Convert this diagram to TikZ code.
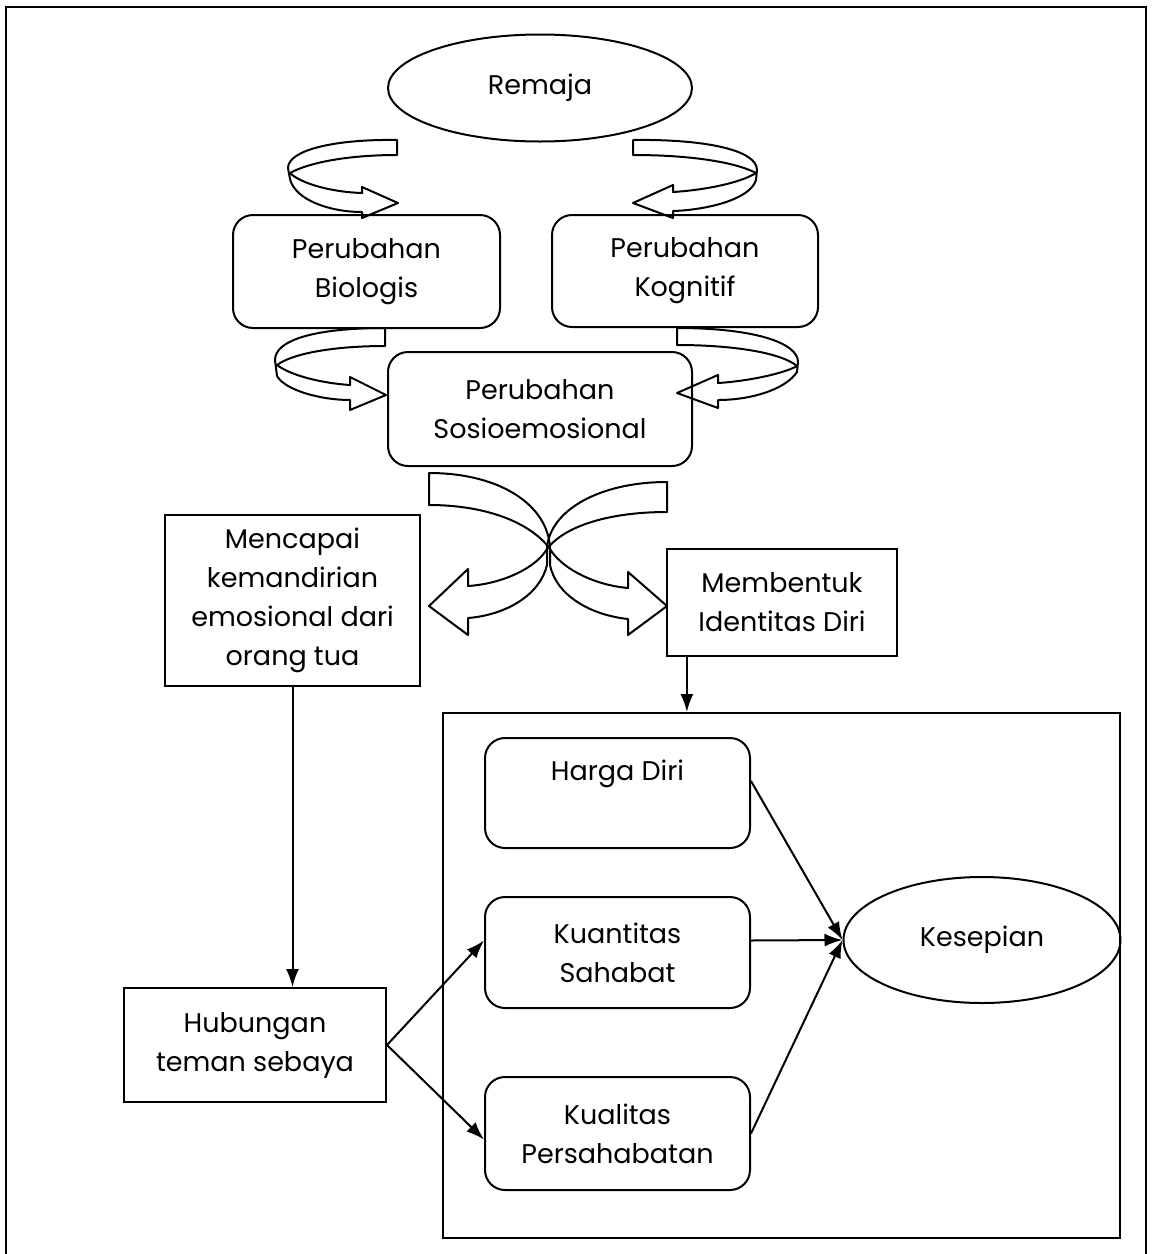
\documentclass[tikz,border=0pt]{standalone}
\usepackage{fontspec}
\setmainfont{Poppins}
\usetikzlibrary{shapes.geometric,arrows.meta,calc}
\begin{document}
\begin{tikzpicture}[x=0.5pt,y=-0.5pt,
  every node/.style={font=\fontsize{13.5}{19.5}\selectfont, align=center, inner sep=0pt},
  rbox/.style={draw, line width=1pt, rounded corners=10pt},
  sbox/.style={draw, line width=1pt},
  ell/.style={draw, line width=1pt, ellipse},
  conn/.style={-{Latex[length=9pt,width=6.5pt]}, line width=1pt},
  swirl/.style={draw, line width=1pt, line join=round}
]
\useasboundingbox (0,0) rectangle (1154,1254);
% outer frame
\draw[line width=1pt] (6,1254) -- (6,7) -- (1146,7) -- (1146,1254);

% nodes
\node[ell, minimum width=152pt, minimum height=53.5pt] (rem) at (540,88) {Remaja};
\node[rbox, minimum width=133.5pt, minimum height=56.5pt] (bio) at (366.5,271.5) {Perubahan\\Biologis};
\node[rbox, minimum width=133pt, minimum height=56pt] (kog) at (685,271) {Perubahan\\Kognitif};
\node[rbox, minimum width=152pt, minimum height=57pt] (sos) at (540,409) {Perubahan\\Sosioemosional};
\node[sbox, minimum width=127.5pt, minimum height=85.5pt] (menc) at (292.5,600.5) {Mencapai\\kemandirian\\emosional dari\\orang tua};
\node[sbox, minimum width=115pt, minimum height=53.5pt] (mem) at (782,602.5) {Membentuk\\Identitas Diri};
\node[sbox, minimum width=338.5pt, minimum height=262.5pt] (grp) at (781.5,975.5) {};
\node[rbox, minimum width=132.5pt, minimum height=55pt,
      label={[anchor=center, yshift=-18.5pt]north:Harga Diri}] (hd) at (617.5,793) {};
\node[rbox, minimum width=132.5pt, minimum height=55.5pt] (kuan) at (617.5,952.5) {Kuantitas\\Sahabat};
\node[rbox, minimum width=132.5pt, minimum height=56.5pt] (kual) at (617.5,1133.5) {Kualitas\\Persahabatan};
\node[ell, minimum width=138.5pt, minimum height=63pt] (kes) at (982,940) {Kesepian};
\node[sbox, minimum width=131pt, minimum height=57pt] (hub) at (255,1045) {Hubungan\\teman sebaya};

% swirl arrows (top)
\path[swirl] (397,140) .. controls (335,139) and (288,150) .. (288,168) -- (290,179)
  .. controls (295,200) and (330,212) .. (362,212) -- (362,218) -- (398,203) -- (362,187) -- (362,193)
  .. controls (330,192) and (300,183) .. (290,173)
  .. controls (310,162) and (350,155) .. (397,155) -- cycle;
\path[swirl] (633,140) .. controls (705,139) and (757,150) .. (757,170) -- (756,180)
  .. controls (750,200) and (705,210) .. (673,211) -- (673,218) -- (633,203) -- (673,185) -- (673,192)
  .. controls (705,190) and (740,183) .. (756,173)
  .. controls (735,162) and (690,155) .. (633,155) -- cycle;
% swirl arrows (middle)
\path[swirl] (385,328) .. controls (315,328) and (275,340) .. (275,360) -- (277,376)
  .. controls (285,390) and (320,400) .. (350,400) -- (350,410) -- (386,395) -- (350,377) -- (350,385)
  .. controls (320,383) and (290,375) .. (277,365)
  .. controls (295,352) and (340,346) .. (385,346) -- cycle;
\path[swirl] (677,328) .. controls (755,328) and (798,343) .. (798,362) -- (797,372)
  .. controls (785,390) and (750,400) .. (718,400) -- (718,408) -- (677,393) -- (718,375) -- (718,383)
  .. controls (750,381) and (785,373) .. (797,366)
  .. controls (780,352) and (730,345) .. (677,345) -- cycle;
% crossing arrows
\path[swirl] (429,473) .. controls (500,473) and (548,505) .. (550,548) -- (550,565)
  .. controls (556,595) and (590,615) .. (628,619) -- (628,635) -- (667,606) -- (628,572) -- (628,588)
  .. controls (595,585) and (565,570) .. (552,552)
  .. controls (535,525) and (490,505) .. (429,505) -- cycle;
\path[swirl] (667,482) .. controls (600,482) and (550,510) .. (547,548) -- (547,565)
  .. controls (540,595) and (506,615) .. (468,618) -- (468,635) -- (429,606) -- (468,569) -- (468,586)
  .. controls (500,584) and (532,570) .. (545,552)
  .. controls (560,528) and (605,512) .. (667,512) -- cycle;

% connectors
\draw[conn] (menc.south) -- (menc.south |- hub.north);
\coordinate (m1) at ($(mem.south west)!0.09!(mem.south east)$);
\draw[conn] (m1) -- (m1 |- grp.north);
\draw[conn] (hub.east) -- ($(kuan.west)+(0,-12)$);
\draw[conn] (hub.east) -- ($(kual.west)+(0,6)$);
\draw[conn] ($(hd.east)+(0,-12)$) -- (kes.west);
\draw[conn] ($(kuan.east)+(0,-12)$) -- (kes.west);
\draw[conn] (kual.east) -- (kes.west);
\end{tikzpicture}
\end{document}
